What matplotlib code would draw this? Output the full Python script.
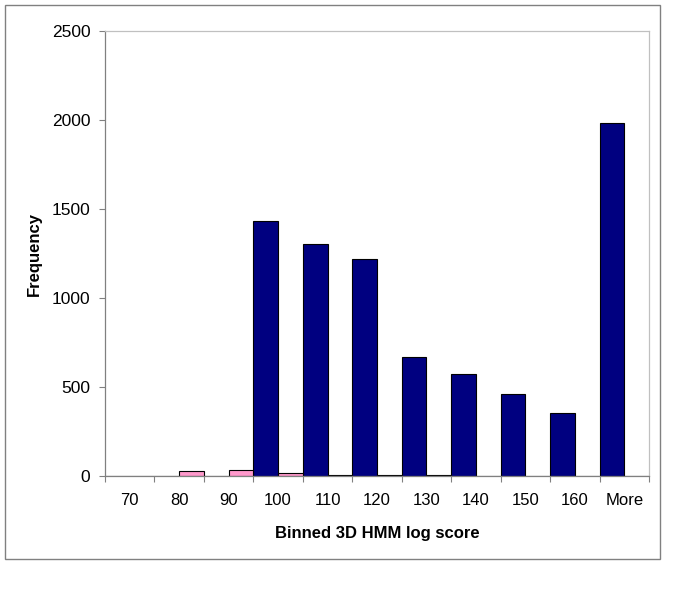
import matplotlib
matplotlib.use("Agg")
import matplotlib.pyplot as plt
from matplotlib.patches import Rectangle
import numpy as np

plt.rcParams['font.family'] = ['Liberation Sans', 'DejaVu Sans']

# histogram bins and counts
bins = ['70', '80', '90', '100', '110', '120', '130', '140', '150', '160', 'More']
navy_counts = [0, 0, 0, 1433, 1302, 1221, 671, 575, 463, 354, 1983]
pink_counts = [0, 26, 35, 16, 4, 4, 4, 0, 0, 0, 0]
y_ticks = [0, 500, 1000, 1500, 2000, 2500]

fig = plt.figure(figsize=(6.85, 6.05), dpi=100)
ax = fig.add_axes([105 / 685, 1 - 476 / 605, 544 / 685, 445 / 605])

x = np.arange(len(bins))
ax.bar(x - 0.25, navy_counts, width=0.5, color='#000080', edgecolor='black', linewidth=0.8)
ax.bar(x + 0.25, pink_counts, width=0.5, color='#ff99cc', edgecolor='black', linewidth=0.8)

ax.set_xlim(-0.5, len(bins) - 0.5)
ax.set_ylim(0, 2500)
ax.set_yticks(y_ticks)

# tick marks between categories, labels at centres
ax.set_xticks(np.arange(len(bins) + 1) - 0.5)
ax.set_xticklabels([])
ax.set_xticks(x, minor=True)
ax.set_xticklabels(bins, minor=True)
ax.tick_params(axis='x', which='major', length=4, color='#808080', width=0.8)
ax.tick_params(axis='x', which='minor', length=0, pad=12, labelsize=12)
ax.tick_params(axis='y', length=4, color='#808080', width=0.8, pad=6.5, labelsize=12.5)

for side in ['left', 'bottom']:
    ax.spines[side].set_color('#808080')
    ax.spines[side].set_linewidth(0.9)
for side in ['top', 'right']:
    ax.spines[side].set_color('#c0c0c0')
    ax.spines[side].set_linewidth(0.9)

ax.set_xlabel('Binned 3D HMM log score', fontsize=12, fontweight='bold', labelpad=13)
ax.set_ylabel('Frequency', fontsize=12, fontweight='bold')
ax.yaxis.set_label_coords(-0.1158, 0.5)

# outer chart frame
fig.patches.append(Rectangle((5 / 685, 1 - 559 / 605), 655 / 685, 554 / 605,
                             transform=fig.transFigure, fill=False,
                             edgecolor='#808080', linewidth=1.0))

fig.savefig('out.png', dpi=100)
